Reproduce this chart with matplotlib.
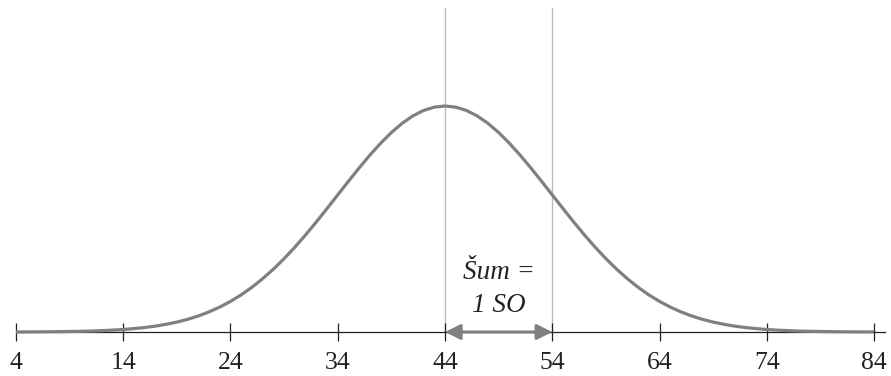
import matplotlib
matplotlib.use("Agg")
import matplotlib.pyplot as plt

# Values of the distribution (mean 44, 1 SD = 10)
x_values = list(range(4, 85))
# curve height (density x 100) at each x from 4 to 84
half = [3.989, 3.969, 3.910, 3.814, 3.683, 3.521, 3.332, 3.123, 2.897, 2.661,
        2.420, 2.179, 1.942, 1.714, 1.497, 1.295, 1.109, 0.941, 0.790, 0.656,
        0.540, 0.440, 0.355, 0.283, 0.224, 0.175, 0.136, 0.104, 0.079, 0.060,
        0.044, 0.033, 0.024, 0.017, 0.012, 0.009, 0.006, 0.004, 0.003, 0.002,
        0.001]
heights = half[::-1] + half[1:]

tick_values = [4, 14, 24, 34, 44, 54, 64, 74, 84]
mean_value = 44
sd_value = 10
label_text = "Šum =\n1 SO"

curve_color = "#808080"
guide_color = "#bdbdbd"

W, H = 891, 376
fig = plt.figure(figsize=(W / 100, H / 100), dpi=100)
ax = fig.add_axes([0, 0, 1, 1])

# pixel scale
px_per_unit = 10.725
x0 = 4 - 16 / px_per_unit
ax.set_xlim(x0, x0 + W / px_per_unit)
k = 3.989 / 226  # y-units per pixel
axis_px = 332
ax.set_ylim(-(H - axis_px) * k, axis_px * k)

# vertical guides at mean and mean + 1 SD
for v in (mean_value, mean_value + sd_value):
    ax.plot([v, v], [0, (axis_px - 8) * k], color=guide_color, lw=1.0, zorder=1)

ax.plot(x_values, heights, color=curve_color, lw=2.3, solid_capstyle="butt", zorder=3)

# bottom axis
for s in ("top", "right", "left"):
    ax.spines[s].set_visible(False)
ax.spines["bottom"].set_position(("data", 0))
ax.spines["bottom"].set_bounds(4, 85)
ax.spines["bottom"].set_color("#222222")
ax.spines["bottom"].set_linewidth(0.9)
ax.spines["bottom"].set_zorder(2)
ax.set_yticks([])
ax.set_xticks(tick_values)
ax.set_xticklabels([str(t) for t in tick_values], fontfamily="Liberation Serif",
                   fontsize=18.5, color="#222222")
ax.tick_params(axis="x", direction="inout", length=13, width=0.9,
               color="#222222", pad=8)

# double arrow for one SD
ax.annotate("", xy=(mean_value, 0), xytext=(mean_value + sd_value, 0),
            arrowprops=dict(arrowstyle="<|-|>", color=curve_color, lw=2.2,
                            mutation_scale=23, shrinkA=0, shrinkB=0),
            zorder=4)

ax.text(mean_value + sd_value / 2, 20 * k, label_text, ha="center", va="baseline",
        fontfamily="Liberation Serif", fontstyle="italic", fontsize=19.5,
        linespacing=1.4, color="#222222")

fig.savefig("out.png", dpi=100)
